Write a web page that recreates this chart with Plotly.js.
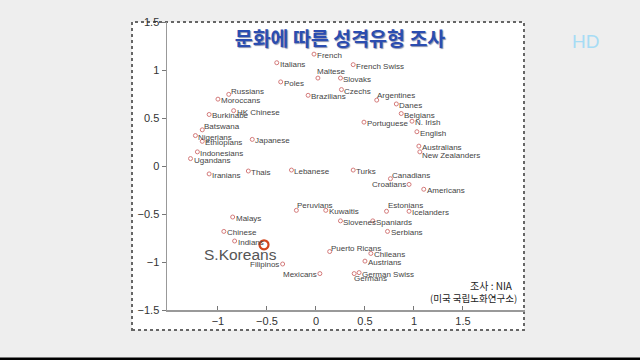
<!DOCTYPE html>
<html><head><meta charset="utf-8">
<script src="https://cdn.plot.ly/plotly-3.0.1.min.js"></script>
<style>html,body{margin:0;padding:0;background:#eeeeee}#chart{width:640px;height:360px}</style>
</head><body><div id="chart"></div>
<script>
const countries = ['French','Italians','French Swiss','Maltese','Slovaks','Poles','Czechs','Brazilians','Russians','Argentines','Moroccans','Danes','HK Chinese','Belgians','Burkinabe','Portuguese','N. Irish','Batswana','English','Nigerians','Japanese','Ethiopians','Australians','Indonesians','New Zealanders','Ugandans','Lebanese','Turks','Thais','Iranians','Canadians','Croatians','Americans','Peruvians','Kuwaitis','Estonians','Icelanders','Malays','Slovenes','Spaniards','Chinese','Serbians','Indians','S.Koreans','Puerto Ricans','Chileans','Austrians','Filipinos','German Swiss','Mexicans','Germans'];
const dim1 = [-0.02,-0.40,0.38,0.02,0.25,-0.36,0.26,-0.08,-0.89,0.62,-1.00,0.82,-0.84,0.87,-1.09,0.49,0.98,-1.16,1.03,-1.23,-0.65,-1.16,1.05,-1.21,1.06,-1.28,-0.25,0.38,-0.69,-1.09,0.76,0.95,1.10,-0.20,0.10,0.72,0.95,-0.85,0.25,0.58,-0.94,0.73,-0.83,-0.53,0.14,0.56,0.50,-0.34,0.44,0.04,0.39];
const dim2 = [1.17,1.08,1.06,0.92,0.92,0.88,0.80,0.74,0.75,0.69,0.70,0.65,0.58,0.55,0.54,0.46,0.47,0.38,0.36,0.32,0.28,0.26,0.21,0.15,0.15,0.08,-0.04,-0.04,-0.05,-0.08,-0.13,-0.19,-0.24,-0.46,-0.46,-0.47,-0.47,-0.53,-0.57,-0.57,-0.68,-0.68,-0.78,-0.82,-0.89,-0.91,-0.99,-1.02,-1.11,-1.12,-1.12];
const highlighted = 'S.Koreans';
const xTickVals = [-1,-0.5,0,0.5,1,1.5];
const yTickVals = [-1.5,-1,-0.5,0,0.5,1,1.5];
const titleText = '문화에 따른 성격유형 조사';
const sourceLines = ['조사 : NIA','(미국 국립노화연구소)'];

// label offsets in pixels relative to the marker [dx, dy(down), side] (style only)
const defaultOffset = [2, 1.5, 'left'];
const labelOffset = {
  'Russians':[1,-3.3,'left'], 'Batswana':[1,-3.4,'left'], 'Maltese':[-2,-7,'left'], 'Argentines':[-1,-4.7,'left'],
  'Peruvians':[0,-5,'left'], 'Canadians':[1,-3.3,'left'], 'Estonians':[0,-5.7,'left'], 'Puerto Ricans':[0,-3.4,'left'],
  'New Zealanders':[1,4,'left'], 'Germans':[-1,5,'left'], 'German Swiss':[2,1.7,'left'],
  'Croatians':[-2.5,0,'right'], 'Filipinos':[-2.5,0,'right'], 'Mexicans':[-2,0.7,'right']
};

const idx = countries.map((c,i)=>i).filter(i=>countries[i]!==highlighted);
const k = countries.indexOf(highlighted);
const labelFont = {family:'Liberation Sans, Arial, sans-serif', size:8, color:'#444'};

const main = {
  type:'scatter', mode:'markers',
  x: idx.map(i=>dim1[i]), y: idx.map(i=>dim2[i]),
  marker:{symbol:'circle-open', size:4, color:'#d47a7a', line:{width:1, color:'#d47a7a'}},
  cliponaxis:false, hoverinfo:'skip'
};
const hi = {
  type:'scatter', mode:'markers',
  x:[dim1[k]], y:[dim2[k]],
  marker:{symbol:'circle-open', size:9, color:'#d2461e', line:{width:2.2, color:'#d2461e'}},
  cliponaxis:false, hoverinfo:'skip'
};

const labelAnns = idx.map(i=>{
  const o = labelOffset[countries[i]] || defaultOffset;
  return {x:dim1[i], y:dim2[i], xref:'x', yref:'y', text:countries[i], showarrow:false,
    xanchor:o[2], yanchor:'middle', xshift:o[0], yshift:-o[1], borderpad:0, font:labelFont};
});

const L=167, R=115, T=22, B=50;
const pw = 640-L-R, ph = 360-T-B;
const px = v => (v-L)/pw;
const py = v => (360-B-v)/ph;

const layout = {
  width:640, height:360,
  margin:{l:L, r:R, t:T, b:B, pad:0},
  paper_bgcolor:'#eeeeee', plot_bgcolor:'rgba(0,0,0,0)',
  showlegend:false,
  title:{text:titleText, x:340/640, y:1-39.5/360, xanchor:'center', yanchor:'middle', xref:'container', yref:'container',
    font:{family:'Noto Sans CJK KR, sans-serif', size:19.5, weight:'bold', color:'#2b4db0', shadow:'1px 1px 1px #8890b0'}},
  xaxis:{range:[-1.52,2.133], tickvals:xTickVals, showgrid:false, zeroline:false, showline:true, linecolor:'#999', linewidth:1.5,
    ticks:'inside', ticklen:4, tickcolor:'#777', tickfont:{family:'Liberation Sans, Arial, sans-serif', size:11, color:'#333'}, fixedrange:true},
  yaxis:{range:[-1.5,1.505], tickvals:yTickVals, showgrid:false, zeroline:false, showline:true, linecolor:'#999', linewidth:1.5,
    ticks:'outside', ticklen:4, tickcolor:'#777', tickfont:{family:'Liberation Sans, Arial, sans-serif', size:11, color:'#333'}, fixedrange:true},
  shapes:[
    {type:'rect', xref:'paper', yref:'paper', x0:px(132), x1:px(524), y0:py(330), y1:py(22), fillcolor:'#ffffff',
      line:{color:'#666', width:2, dash:'dot'}, layer:'below'},
    {type:'rect', xref:'paper', yref:'paper', x0:px(0), x1:px(640), y0:py(361), y1:py(357.5), fillcolor:'#000', line:{width:0}, layer:'below'}
  ],
  annotations: labelAnns.concat([
    {x:dim1[k], y:dim2[k], xref:'x', yref:'y', text:highlighted, showarrow:false, xanchor:'right', yanchor:'middle', xshift:15, yshift:-10,
      font:{family:'Liberation Sans, Arial, sans-serif', size:15.5, color:'#555'}},
    {x:px(515), y:py(285), xref:'paper', yref:'paper', text:sourceLines[0], showarrow:false, xanchor:'right', yanchor:'middle',
      font:{family:'Noto Sans CJK KR, sans-serif', size:10, color:'#222'}},
    {x:px(519), y:py(298), xref:'paper', yref:'paper', text:sourceLines[1], showarrow:false, xanchor:'right', yanchor:'middle',
      font:{family:'Noto Sans CJK KR, sans-serif', size:9.5, color:'#222'}},
    {x:px(585), y:py(41), xref:'paper', yref:'paper', text:'HD', showarrow:false, xanchor:'center', yanchor:'middle',
      font:{family:'Liberation Sans, Arial, sans-serif', size:19, color:'#a6dcf5'}}
  ])
};
Plotly.newPlot('chart',[main,hi],layout,{displayModeBar:false, staticPlot:true});
</script>
</body></html>
